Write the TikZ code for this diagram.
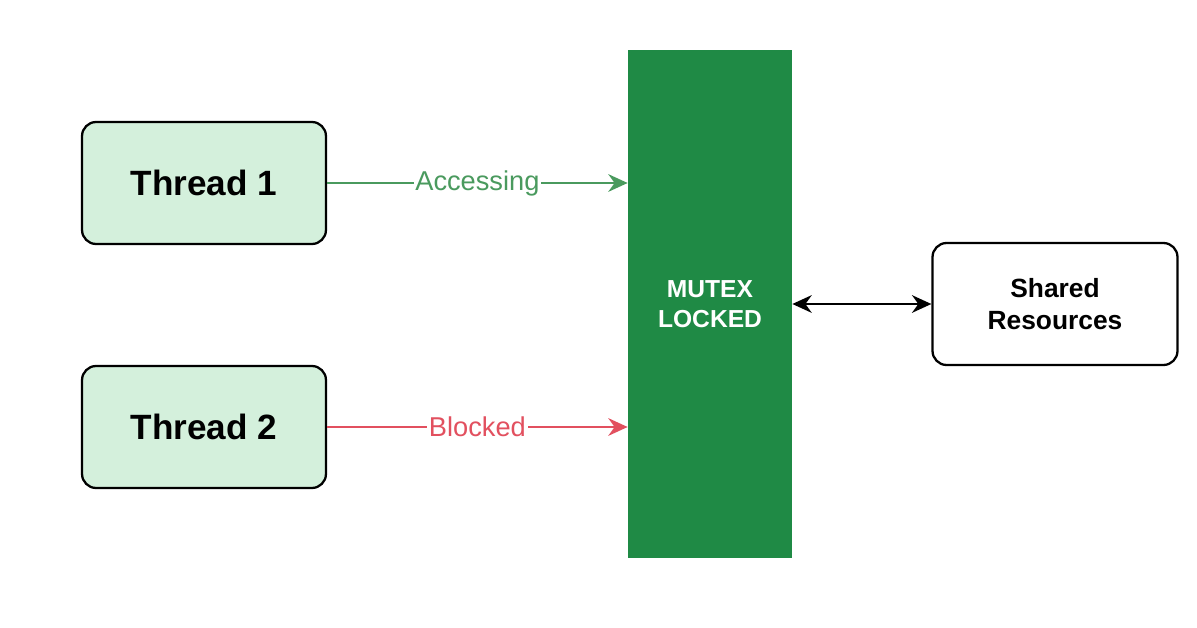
\documentclass[tikz,border=0pt]{standalone}
\usepackage{fontspec}
\setmainfont{Liberation Sans}
\usetikzlibrary{arrows.meta}
\definecolor{boxg}{HTML}{D4F0DC}
\definecolor{mutexg}{HTML}{1F8A45}
\definecolor{arrg}{HTML}{4A9A5E}
\definecolor{arrr}{HTML}{E2505F}
\begin{document}
\begin{tikzpicture}[x=0.02cm,y=-0.02cm,
  thread/.style={draw=black,line width=1.3pt,rounded corners=8pt,fill=boxg,minimum width=4.88cm,minimum height=2.44cm,font=\fontsize{20}{22}\selectfont\bfseries},
  arr/.style={line width=1.6pt,-{Stealth[length=11pt,width=10pt]}},
  lab/.style={fill=white,inner sep=1pt,font=\fontsize{15.5}{17}\selectfont}]
\useasboundingbox (0,0) rectangle (1197,628);
\node[thread] (t1) at (204,183) {Thread 1};
\node[thread] (t2) at (204,427) {Thread 2};
\node[fill=mutexg,minimum width=3.28cm,minimum height=10.16cm,text=white,align=center,font=\fontsize{14}{17}\selectfont\bfseries] (m) at (710,304) {MUTEX\\LOCKED};
\node[draw=black,line width=1.3pt,rounded corners=8pt,fill=white,minimum width=4.9cm,minimum height=2.44cm,align=center,font=\fontsize{15}{18}\selectfont\bfseries] (s) at (1055,304) {Shared\\Resources};
\draw[arr,arrg] (t1.east) -- node[lab,text=arrg]{Accessing} (t1.east -| m.west);
\draw[arr,arrr] (t2.east) -- node[lab,text=arrr]{Blocked} (t2.east -| m.west);
\draw[line width=1.6pt,{Stealth[length=11pt,width=10pt]}-{Stealth[length=11pt,width=10pt]}] (m.east |- s.west) -- (s.west);
\end{tikzpicture}
\end{document}
